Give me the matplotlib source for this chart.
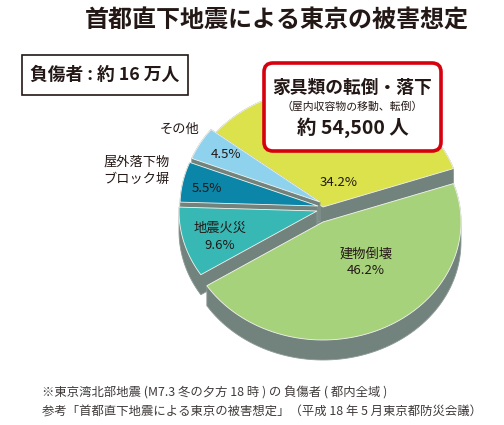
import matplotlib
matplotlib.use('Agg')
import matplotlib.pyplot as plt
import numpy as np
from matplotlib.patches import Polygon, FancyBboxPatch, Rectangle

plt.rcParams['font.family'] = ['Noto Sans CJK JP', 'DejaVu Sans']

# data (share of injured, %), counter-clockwise from the right
categories = ['家具類の転倒・落下', 'その他', '屋外落下物\nブロック塀', '地震火災', '建物倒壊']
shares = [34.2, 4.5, 5.5, 9.6, 46.2]
pct_labels = ['34.2%', '4.5%', '5.5%', '9.6%', '46.2%']
colors = ['#dbe24c', '#8fd2ee', '#0b86a8', '#37b8b5', '#a6d27c']
# how far each slice is pulled out (px, screen)
explode_dx = [0, -3, -5, -6, 0]
explode_dy = [0, -5, -1, 4, 15]

side_color = '#72827c'
text_color = '#231815'

# geometry of the tilted pie (pixel space)
cx, cy = 323, 207
rx, ry = 138, 118
depth = 20
start = 19.0

fig = plt.figure(figsize=(5.04, 4.25), dpi=100)
ax = fig.add_axes([0, 0, 1, 1])
ax.set_xlim(0, 504)
ax.set_ylim(425, 0)
ax.axis('off')


def hull(pts):
    pts = sorted(set(map(tuple, np.round(pts, 3))))
    def cross(o, a, b):
        return (a[0] - o[0]) * (b[1] - o[1]) - (a[1] - o[1]) * (b[0] - o[0])
    lower, upper = [], []
    for p in pts:
        while len(lower) >= 2 and cross(lower[-2], lower[-1], p) <= 0:
            lower.pop()
        lower.append(p)
    for p in reversed(pts):
        while len(upper) >= 2 and cross(upper[-2], upper[-1], p) <= 0:
            upper.pop()
        upper.append(p)
    return np.array(lower[:-1] + upper[:-1])


# draw wedges back to front
a0 = start
for share, col, ox, oy in zip(shares, colors, explode_dx, explode_dy):
    a1 = a0 + share * 3.6
    th = np.radians(np.linspace(a0, a1, 80))
    top = np.column_stack([cx + ox + rx * np.cos(th), cy + oy - ry * np.sin(th)])
    top = np.vstack([[cx + ox, cy + oy], top])
    bottom = top + [0, depth]
    side = hull(np.vstack([top, bottom]))
    ax.add_patch(Polygon(side, closed=True, fc=side_color, ec='#8c9a95', lw=0.6))
    ax.add_patch(Polygon(top, closed=True, fc=col, ec='#f4f4ee', lw=0.6))
    a0 = a1

# title
ax.text(277, 21, '首都直下地震による東京の被害想定', ha='center', va='center',
        fontsize=17.3, fontweight='bold', color=text_color)

# total box
ax.add_patch(Rectangle((22, 55), 166, 40, fc='white', ec=text_color, lw=1.2))
ax.text(105, 75, '負傷者 : 約 16 万人', ha='center', va='center',
        fontsize=12.8, fontweight='bold', color=text_color)

# highlight box for the largest indoor cause
ax.add_patch(FancyBboxPatch((264, 63), 177, 88, boxstyle='round,pad=0,rounding_size=9',
                            fc='white', ec='#d7000f', lw=2.6, zorder=5))
ax.text(352, 88, categories[0], ha='center', va='center', fontsize=12.8,
        fontweight='bold', color=text_color, zorder=6)
ax.text(352, 106, '（屋内収容物の移動、転倒）', ha='center', va='center', fontsize=7.8,
        color=text_color, zorder=6)
ax.text(353, 128, '約 54,500 人', ha='center', va='center', fontsize=14,
        fontweight='bold', color=text_color, zorder=6)

# slice labels
lab_kw = dict(ha='center', va='center', fontsize=9.5, color=text_color)
ax.text(339, 182, pct_labels[0], **lab_kw)
ax.text(226, 154, pct_labels[1], **lab_kw)
ax.text(207, 188, pct_labels[2], **lab_kw)
ax.text(220, 237, categories[3] + '\n' + pct_labels[3], linespacing=1.35, **lab_kw)
ax.text(366, 262, categories[4] + '\n' + pct_labels[4], linespacing=1.35, **lab_kw)
ax.text(199, 129, categories[1], ha='right', va='center', fontsize=9.5, color=text_color)
ax.text(103, 171, categories[2], ha='left', va='center', fontsize=9.5,
        linespacing=1.4, color=text_color)

# footnotes
ax.text(42, 393, '※東京湾北部地震 (M7.3 冬の夕方 18 時 ) の 負傷者 ( 都内全域 )',
        ha='left', va='center', fontsize=8.9, color='#3e3a39')
ax.text(42, 412, '参考「首都直下地震による東京の被害想定」（平成 18 年 5 月東京都防災会議）',
        ha='left', va='center', fontsize=8.9, color='#3e3a39')

fig.savefig('out.png', dpi=100)
